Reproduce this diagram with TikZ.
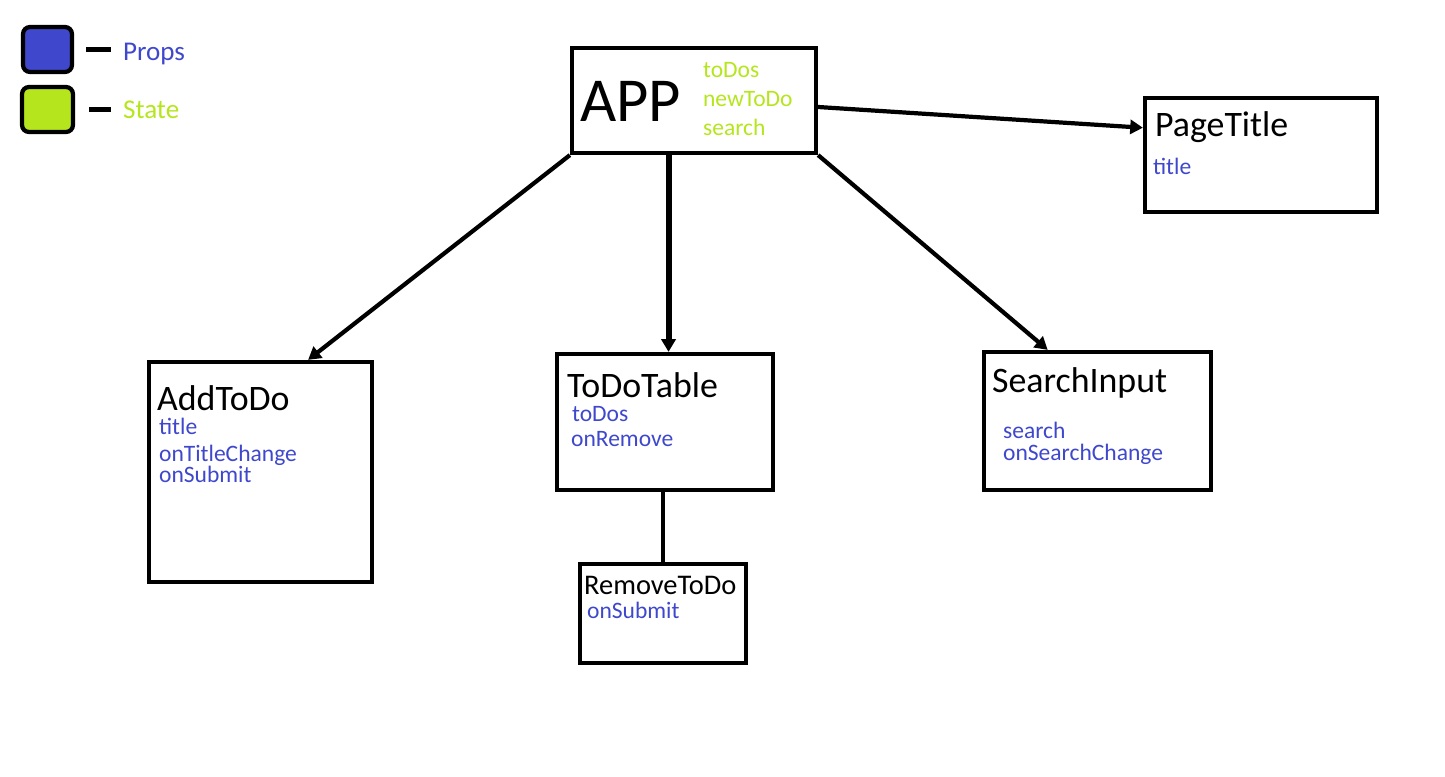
\documentclass[tikz,border=0pt]{standalone}
\usepackage{fontspec}
\setmainfont{Carlito}
\usetikzlibrary{arrows.meta}
\definecolor{propblue}{HTML}{3F48CC}
\definecolor{statelime}{HTML}{B5E61D}

\begin{document}
\begin{tikzpicture}[line width=1.2pt, >={Triangle[length=3.6pt,width=4pt]},
  box/.style={draw, inner sep=0pt},
  title/.style={anchor=base west, inner sep=0pt, font=\fontsize{10.2}{12}\selectfont},
  prop/.style={anchor=base west, inner sep=0pt, text=propblue, font=\fontsize{6.7}{8}\selectfont},
  state/.style={anchor=base west, inner sep=0pt, text=statelime, font=\fontsize{6.7}{8}\selectfont}]
\useasboundingbox (0,0) rectangle (14.45,-7.77);
% legend
\node [draw, fill=propblue, rounded corners=2pt, minimum width=0.49cm, minimum height=0.45cm] (propkey) at (0.475,-0.495) {};
\node [draw, fill=statelime, rounded corners=2pt, minimum width=0.51cm, minimum height=0.45cm] (statekey) at (0.475,-1.095) {};
\node [prop, font=\fontsize{7.7}{9}\selectfont] (propslabel) at (1.21,-0.61) {Props};
\node [state, font=\fontsize{7.7}{9}\selectfont] (statelabel) at (1.21,-1.19) {State};
\draw ([xshift=0.12cm]propkey.east) -- ([xshift=0.12cm+0.25cm]propkey.east);
\draw ([xshift=0.14cm]statekey.east) -- ([xshift=0.36cm]statekey.east);
% boxes
\node [box, minimum width=2.44cm, minimum height=1.05cm] (app) at (6.94,-1.005) {};
\node [box, minimum width=2.32cm, minimum height=1.14cm] (pagetitle) at (12.61,-1.55) {};
\node [box, minimum width=2.23cm, minimum height=2.20cm] (addtodo) at (2.605,-4.72) {};
\node [box, minimum width=2.16cm, minimum height=1.36cm] (todotable) at (6.65,-4.22) {};
\node [box, minimum width=2.27cm, minimum height=1.38cm] (searchinput) at (10.975,-4.21) {};
\node [box, minimum width=1.66cm, minimum height=0.99cm] (removetodo) at (6.63,-6.135) {};
% texts
\node [title, font=\fontsize{17.8}{20}\selectfont] (apptext) at (5.78,-1.22) {APP};
\node [state] (appstate1) at (7.01,-0.78) {toDos};
\node [state] (appstate2) at (7.01,-1.07) {newToDo};
\node [state] (appstate3) at (7.01,-1.36) {search};
\node [title] (pagetitletext) at (11.53,-1.37) {PageTitle};
\node [prop] (pagetitleprop) at (11.51,-1.75) {title};
\node [title] (addtodotext) at (1.55,-4.11) {AddToDo};
\node [prop] (addtodoprop1) at (1.57,-4.35) {title};
\node [prop] (addtodoprop2) at (1.57,-4.62) {onTitleChange};
\node [prop] (addtodoprop3) at (1.57,-4.83) {onSubmit};
\node [title] (todotabletext) at (5.65,-3.98) {ToDoTable};
\node [prop] (todotableprop1) at (5.70,-4.22) {toDos};
\node [prop] (todotableprop2) at (5.69,-4.47) {onRemove};
\node [title] (searchinputtext) at (9.90,-3.93) {SearchInput};
\node [prop] (searchinputprop1) at (10.01,-4.39) {search};
\node [prop] (searchinputprop2) at (10.01,-4.61) {onSearchChange};
\node [title, font=\fontsize{8.1}{10}\selectfont] (removetodotext) at (5.82,-5.95) {RemoveToDo};
\node [prop] (removetodoprop) at (5.85,-6.19) {onSubmit};
% connectors
\path [->] (app.south west) edge (addtodo.67);
\path [->, line width=1.7pt] (app.245) edge (app.245 |- todotable.north);
\path [->] (app.south east) edge (searchinput.125);
\path [->] (app.-3) edge (pagetitle.167);
\path (todotable.south -| removetodo.north) edge (removetodo.north);
\end{tikzpicture}
\end{document}
